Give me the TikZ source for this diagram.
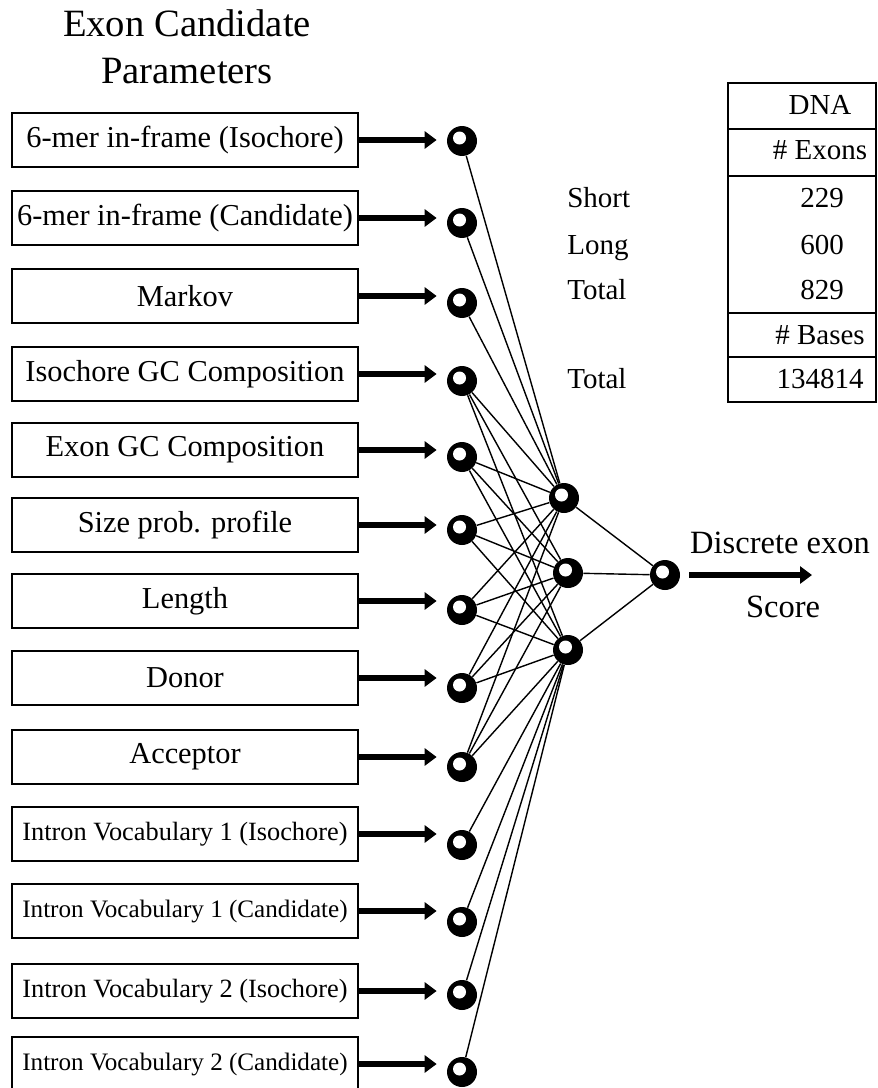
\documentclass[tikz,border=0pt]{standalone}
\usepackage{fontspec}
\setmainfont{Liberation Serif}
\usetikzlibrary{arrows.meta,positioning,calc}

\begin{document}
\begin{tikzpicture}[x=0.02cm, y=-0.02cm,
  param/.style={draw, rectangle, line width=1pt, minimum width=6.92cm, minimum height=1.08cm, inner sep=1pt, font=\fontsize{17.3}{20}\selectfont},
  neuron/.style={circle, fill=black, minimum size=0.6cm, inner sep=0pt,
    path picture={\fill[white] ($(path picture bounding box.center)+(-0.05cm,0.06cm)$) circle (0.13cm);}},
  feed/.style={line width=3.4pt, -{Triangle[length=0.24cm, width=0.34cm]}},
  link/.style={line width=0.8pt},
  cell/.style={font=\fontsize{16.5}{19}\selectfont, text height=11.5pt, text depth=3.5pt, inner sep=0pt}
]

\useasboundingbox (0,0) rectangle (877,1088);

% Title
\node[align=center, font=\fontsize{22}{26.7}\selectfont] (title) at (187,47) {Exon Candidate\\Parameters};

% Parameter boxes (left column)
\node[param] (p1) at (185,140) {6-mer in-frame (Isochore)};
\node[param] (p2) at (185,218) {6-mer in-frame (Candidate)};
\node[param] (p3) at (185,296) {Markov};
\node[param] (p4) at (185,374) {Isochore GC Composition};
\node[param] (p5) at (185,450) {Exon GC Composition};
\node[param] (p6) at (185,525) {Size prob. profile};
\node[param] (p7) at (185,601) {Length};
\node[param] (p8) at (185,678) {Donor};
\node[param] (p9) at (185,757) {Acceptor};
\node[param, font=\fontsize{15}{18}\selectfont] (p10) at (185,834) {Intron Vocabulary 1 (Isochore)};
\node[param, font=\fontsize{14.3}{17}\selectfont] (p11) at (185,911) {Intron Vocabulary 1 (Candidate)};
\node[param, font=\fontsize{15}{18}\selectfont] (p12) at (185,991) {Intron Vocabulary 2 (Isochore)};
\node[param, font=\fontsize{14.3}{17}\selectfont] (p13) at (185,1064) {Intron Vocabulary 2 (Candidate)};

% Input units
\foreach \y [count=\i] in {141,223,303,381,457,530,610,688,767,845,922,995,1072}
  \node[neuron] (in\i) at (462,\y) {};

% Hidden units and output unit
\node[neuron] (h1) at (564,498) {};
\node[neuron] (h2) at (568,573) {};
\node[neuron] (h3) at (568,650) {};
\node[neuron] (out) at (665,575) {};

% Feeds from boxes into inputs
\foreach \i in {1,...,13}
  \draw[feed, shorten >=0.2cm] (p\i.east) -- (p\i.east -| in\i.west);

% Connections
\foreach \i in {1,2,3}
  \draw[link] (in\i) -- (h1);
\foreach \i in {4,...,9}
  \foreach \j in {1,2,3}
    \draw[link] (in\i) -- (h\j);
\foreach \i in {10,...,13}
  \draw[link] (in\i) -- (h3);
\foreach \j in {1,2,3}
  \draw[link] (h\j) -- (out);

% Output
\coordinate (score) at (812,575);
\draw[feed, shorten <=0.18cm] (out) -- (score);
\node[font=\fontsize{18.5}{21}\selectfont] (disc) at (780,543) {Discrete exon};
\node[font=\fontsize{18.5}{21}\selectfont] (scorelbl) at (783,607) {Score};

% Table
\draw[line width=1pt] (728,83) rectangle (876,402);
\foreach \y in {129,176,313,357}
  \draw[line width=1pt] (728,\y) -- (876,\y);
\node[cell] (dna) at (820,107) {DNA};
\node[cell] (exons) at (820,152) {\# Exons};
\node[cell] (n229) at (822,200) {229};
\node[cell] (n600) at (822,247) {600};
\node[cell] (n829) at (822,292) {829};
\node[cell] (bases) at (820,337) {\# Bases};
\node[cell] (nbases) at (820,381) {134814};
\node[cell, anchor=west] (short) at (567,200) {Short};
\node[cell, anchor=west] (long) at (567,247) {Long};
\node[cell, anchor=west] (total) at (567,292) {Total};
\node[cell, anchor=west] (totalb) at (567,381) {Total};

\end{tikzpicture}
\end{document}
